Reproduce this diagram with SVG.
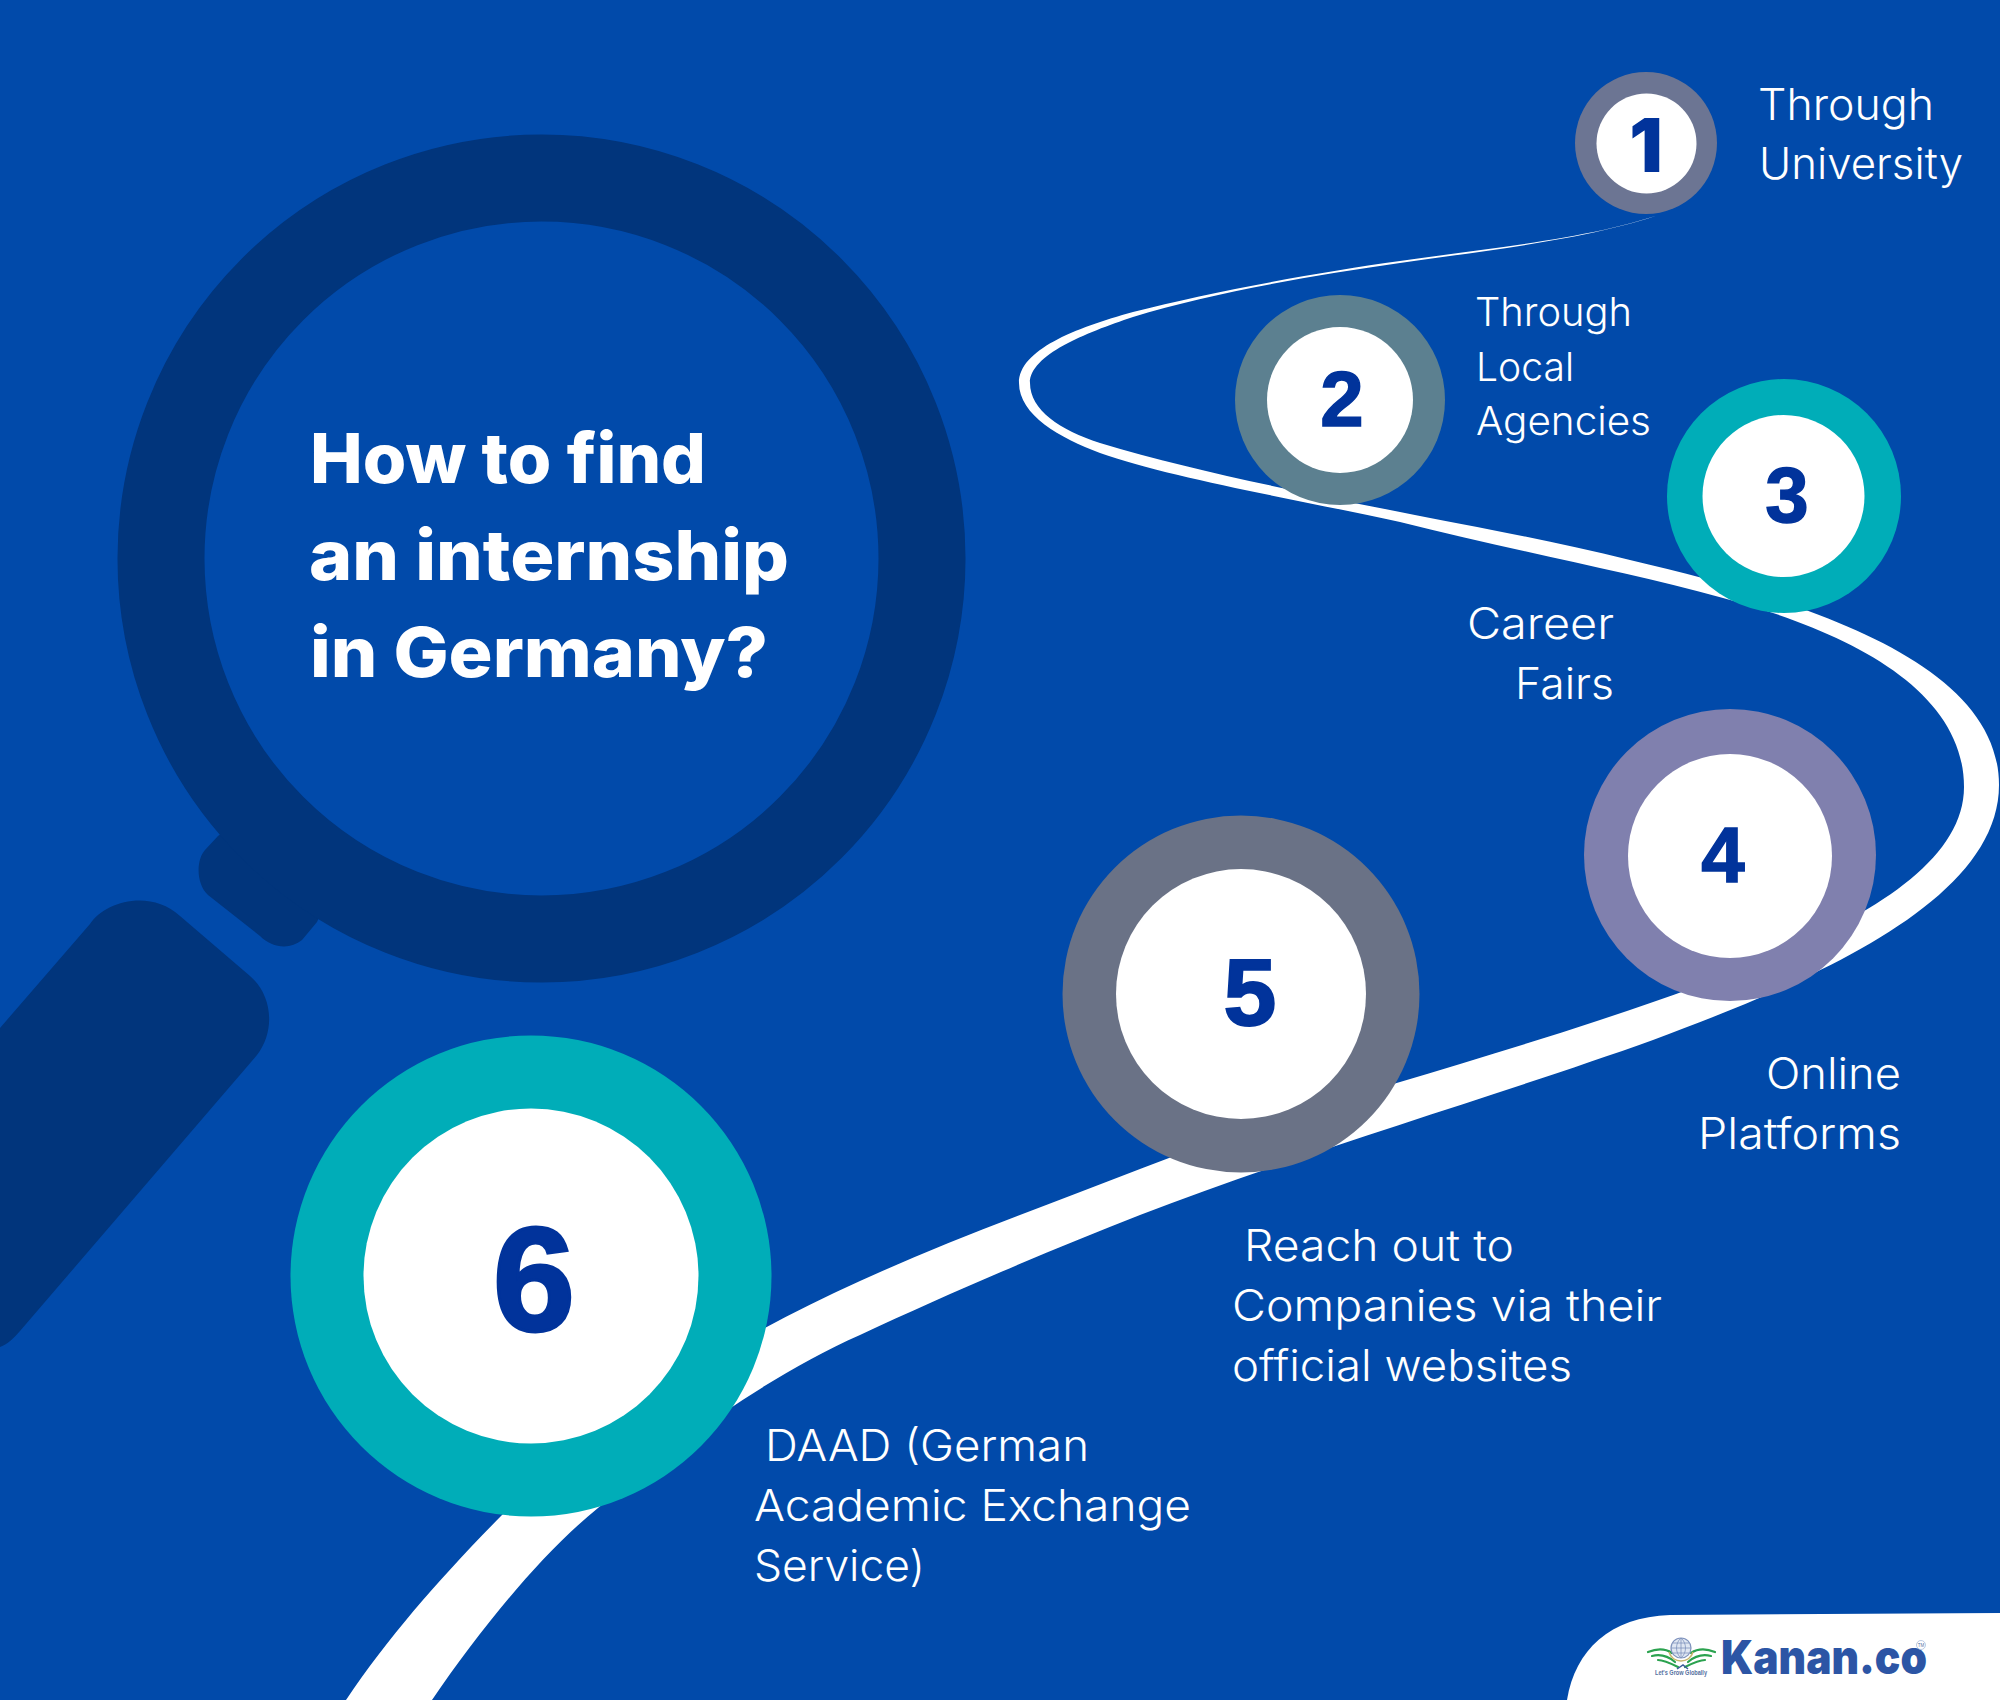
<svg xmlns="http://www.w3.org/2000/svg" width="2000" height="1700" viewBox="0 0 2000 1700">
<defs>
<style>
.inner{fill:#fff}
.num{font-family:"Liberation Sans",Arial,sans-serif;font-weight:700;fill:#01339b;stroke:#01339b;text-anchor:middle}
.lbl{font-family:Inter,"Noto Sans",sans-serif;font-weight:350;fill:#fff}
.ttl{font-family:Inter,"Noto Sans",sans-serif;font-weight:800;fill:#fff;font-size:69px}
.dark{fill:#01357c}
.wing{fill:none;stroke:#2ba24f;stroke-width:2.2;stroke-linecap:round}
</style>
</defs>
<rect width="2000" height="1700" fill="#014aaa"/>
<g id="magnifier">
<path class="dark" d="M218,836 L205,850 C196,860 196,884 208,895 L260,936 C272,948 290,950 302,940 L317,922 L345,860 L262,800 Z"/>
<path class="dark" d="M0,1028 L90,924 C104,902 150,888 180,916 L250,976 C272,995 276,1030 257,1055 L20,1331 C14,1338 8,1344 0,1347 Z"/>
<circle cx="541.500" cy="558.500" r="380.500" fill="none" stroke="#01357c" stroke-width="87"/>
</g>
<g id="connectors">
<path id="road" fill="#fff" d="M1672,210 C1600,238 1490,248 1400,261 C1320,272 1210,292 1133,312 C1075,328 1019,350 1019,383 C1019,415 1060,438 1100,453 C1170,478 1300,500 1400,522 C1510,550 1620,570 1723,598 C1850,632 1964,690 1964,787 C1964,890 1780,960 1600,1020 C1440,1073 1290,1110 1140,1169 C1040,1208 950,1240 860,1281 C720,1345 590,1425 502,1515 C440,1578 390,1635 346,1700 L432,1700 C480,1630 540,1555 598,1508 C680,1440 770,1375 860,1335 C950,1293 1050,1250 1140,1215 C1300,1153 1500,1095 1653,1040 C1800,985 1999,905 1999,785 C1999,660 1800,600 1630,560 C1550,540 1470,526 1400,512 C1290,490 1190,470 1100,443 C1060,430 1030,410 1030,383 C1030,355 1085,333 1133,317 C1210,293 1310,276 1400,263 C1490,250 1600,238 1672,210 Z"/>
</g>
<g id="title">
<text class="ttl" x="310" y="483" textLength="396" lengthAdjust="spacingAndGlyphs">How to find</text>
<text class="ttl" x="309" y="580" textLength="480" lengthAdjust="spacingAndGlyphs">an internship</text>
<text class="ttl" x="310" y="677" textLength="458" lengthAdjust="spacingAndGlyphs">in Germany?</text>
</g>
<g id="node-1">
<circle cx="1646" cy="143" r="71" fill="#6c7593"/>
<circle class="inner" cx="1646.500" cy="143.500" r="50"/>
<text x="1646" y="172" font-family="Inter,sans-serif" font-weight="900" font-size="74" fill="#01339b" text-anchor="middle">1</text>
<text class="lbl" x="1758" y="120" font-size="43" textLength="176" lengthAdjust="spacingAndGlyphs">Through</text>
<text class="lbl" x="1759" y="179" font-size="43" textLength="204" lengthAdjust="spacingAndGlyphs">University</text>
</g>
<g id="node-2">
<circle cx="1340" cy="400" r="105" fill="#5c8090"/>
<circle class="inner" cx="1340" cy="400" r="73"/>
<text class="num" x="1342" y="426" font-size="78" stroke-width="1.500">2</text>
<text class="lbl" x="1475" y="326" font-size="39" textLength="157" lengthAdjust="spacingAndGlyphs">Through</text>
<text class="lbl" x="1476" y="381" font-size="39" textLength="98" lengthAdjust="spacingAndGlyphs">Local</text>
<text class="lbl" x="1476" y="435" font-size="39" textLength="175" lengthAdjust="spacingAndGlyphs">Agencies</text>
</g>
<g id="node-3">
<circle cx="1784" cy="496" r="117" fill="#00adb8"/>
<circle class="inner" cx="1783.500" cy="496" r="81"/>
<text class="num" x="1787" y="522" font-size="78" stroke-width="1.500">3</text>
<text class="lbl" x="1467" y="639" font-size="43" textLength="147" lengthAdjust="spacingAndGlyphs">Career</text>
<text class="lbl" x="1515" y="699" font-size="43" textLength="99" lengthAdjust="spacingAndGlyphs">Fairs</text>
</g>
<g id="node-4">
<circle cx="1730" cy="855" r="146" fill="#8080ae"/>
<circle class="inner" cx="1730" cy="856" r="102"/>
<text class="num" x="1723" y="882" font-size="78" stroke-width="1.500">4</text>
<text class="lbl" x="1766" y="1089" font-size="43" textLength="135" lengthAdjust="spacingAndGlyphs">Online</text>
<text class="lbl" x="1698" y="1149" font-size="43" textLength="203" lengthAdjust="spacingAndGlyphs">Platforms</text>
</g>
<g id="node-5">
<circle cx="1241" cy="994" r="178.500" fill="#6a7286"/>
<circle class="inner" cx="1241" cy="994" r="125"/>
<text class="num" x="1250" y="1025" font-size="95" stroke-width="2">5</text>
<text class="lbl" x="1244" y="1261" font-size="43" textLength="270" lengthAdjust="spacingAndGlyphs">Reach out to</text>
<text class="lbl" x="1232" y="1321" font-size="43" textLength="430" lengthAdjust="spacingAndGlyphs">Companies via their</text>
<text class="lbl" x="1232" y="1381" font-size="43" textLength="340" lengthAdjust="spacingAndGlyphs">official websites</text>
</g>
<g id="node-6">
<circle cx="531" cy="1276" r="240.500" fill="#00adb8"/>
<circle class="inner" cx="531" cy="1276" r="167.500"/>
<text class="num" x="534" y="1331" font-size="148" stroke-width="3">6</text>
<text class="lbl" x="765" y="1461" font-size="43" textLength="324" lengthAdjust="spacingAndGlyphs">DAAD (German</text>
<text class="lbl" x="754" y="1521" font-size="43" textLength="437" lengthAdjust="spacingAndGlyphs">Academic Exchange</text>
<text class="lbl" x="754" y="1581" font-size="43" textLength="171" lengthAdjust="spacingAndGlyphs">Service)</text>
</g>
<g id="logo">
<path fill="#fff" d="M1567,1700 C1575,1650 1610,1617 1670,1615 L2000,1613 V1700 Z"/>
<path class="wing" d="M1648,1652 C1658,1648 1666,1649 1672,1653 M1652,1656 C1660,1654 1668,1656 1675,1662 M1658,1660 C1664,1660 1670,1663 1678,1667"/>
<path class="wing" d="M1715,1652 C1705,1648 1697,1649 1691,1653 M1711,1656 C1703,1654 1695,1656 1688,1662 M1705,1660 C1699,1660 1693,1663 1685,1667"/>
<path fill="none" stroke="#c9b56a" stroke-width="1.500" d="M1669,1652 C1672,1664 1690,1664 1693,1652"/>
<path fill="none" stroke="#3a5a9a" stroke-width="1.500" d="M1677,1669 L1683,1665 L1688,1669"/>
<circle cx="1681" cy="1648" r="10" fill="#dfe6f2" stroke="#7f93bd" stroke-width="1.200"/>
<path fill="none" stroke="#7f93bd" stroke-width="0.800" d="M1671,1648 H1691 M1673,1643 H1689 M1673,1653 H1689 M1681,1638 V1658 M1681,1638 C1675,1643 1675,1653 1681,1658 M1681,1638 C1687,1643 1687,1653 1681,1658"/>
<text x="1655" y="1675" font-family="'Liberation Sans',sans-serif" font-weight="700" font-size="6.500" fill="#55709f" textLength="52" lengthAdjust="spacingAndGlyphs">Let's Grow Globally</text>
<text x="1721" y="1674" font-family="Inter,'Liberation Sans',sans-serif" font-weight="900" font-size="47" fill="#2c55a5" textLength="206" lengthAdjust="spacingAndGlyphs">Kanan.co</text>
<circle cx="1921" cy="1645" r="4.500" fill="none" stroke="#a9bcdc" stroke-width="0.800"/>
<text x="1921" y="1647" font-family="'Liberation Sans',sans-serif" font-size="4.500" fill="#55709f" text-anchor="middle">TM</text>
</g>
</svg>
